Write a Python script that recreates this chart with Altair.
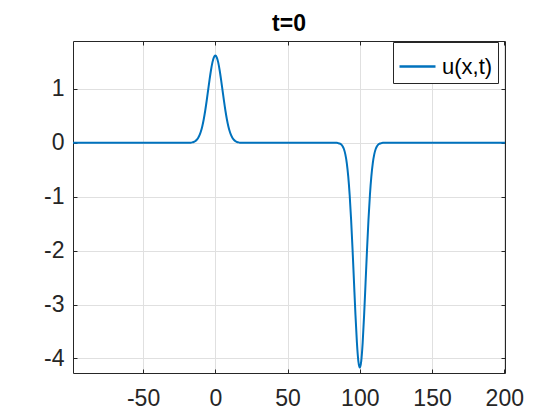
import altair as alt
import pandas as pd

# Curve samples (x, u(x,t) at t=0)
xs = [-98.5, -60, -30, -20, -18, -17, -16, -15, -14, -13, -12, -11, -10, -9, -8, -7, -6, -5, -4, -3, -2, -1,
      0, 1, 2, 3, 4, 5, 6, 7, 8, 9, 10, 11, 12, 13, 14, 15, 16, 17, 18, 20, 40, 70, 84,
      85, 86, 87, 88, 89, 90, 91, 92, 93, 94, 95, 96, 97, 98, 99, 100,
      101, 102, 103, 104, 105, 106, 107, 108, 109, 110, 111, 112, 113, 114, 115, 116, 130, 170, 200.5]
us = [0, 0, 0, 0, 0.002, 0.004, 0.009, 0.016, 0.030, 0.052, 0.086, 0.137, 0.211, 0.310, 0.439, 0.596, 0.777,
      0.973, 1.169, 1.348, 1.493, 1.587,
      1.620, 1.587, 1.493, 1.348, 1.169, 0.973, 0.777, 0.596, 0.439, 0.310, 0.211, 0.137, 0.086, 0.052, 0.030,
      0.016, 0.009, 0.004, 0.002, 0, 0, 0, 0,
      -0.005, -0.012, -0.027, -0.058, -0.114, -0.213, -0.375, -0.623, -0.972, -1.430, -1.983, -2.592, -3.191,
      -3.703, -4.048, -4.170,
      -4.048, -3.703, -3.191, -2.592, -1.983, -1.430, -0.972, -0.623, -0.375, -0.213, -0.114, -0.058, -0.027,
      -0.012, -0.005, 0, 0, 0, 0]
series_name = "u(x,t)"
x_ticks = [-50, 0, 50, 100, 150, 200]
y_ticks = [-4, -3, -2, -1, 0, 1]
x_domain = [-98.5, 200.5]
y_domain = [-4.27, 1.89]

df = pd.DataFrame({"x": xs, "u": us, "s": [series_name] * len(xs)})

FONT = "Liberation Sans"
AX = "#262626"
GRID = "#e0e0e0"
HYPHEN = "replace(datum.label, '\u2212', '-')"

xscale = alt.Scale(domain=x_domain, nice=False, zero=False)
yscale = alt.Scale(domain=y_domain, nice=False, zero=False)


def tick_axis(orient, values):
    # inward ticks: axis moved 4px inside, ticks reach the frame
    return alt.Axis(orient=orient, values=values, grid=False, domain=False, labels=False,
                    ticks=True, tickSize=4, offset=-4, tickColor=AX, tickWidth=1, title=None)


def frame_axis(orient, values):
    return alt.Axis(orient=orient, values=values, grid=False, domain=True, domainColor=AX,
                    domainWidth=1, labels=False, ticks=False, title=None)


main = alt.Chart(df).mark_line(strokeWidth=2, interpolate="monotone").encode(
    x=alt.X("x:Q", scale=xscale, axis=alt.Axis(
        orient="bottom", values=x_ticks, grid=True, gridColor=GRID, domain=False,
        ticks=True, tickSize=4, offset=-4, tickColor=AX, labelFontSize=23, labelFont=FONT,
        labelColor=AX, labelBaseline="alphabetic", labelPadding=32, labelFlush=False,
        labelOverlap=False, labelBound=False, labelExpr=HYPHEN, title=None)),
    y=alt.Y("u:Q", scale=yscale, axis=alt.Axis(
        orient="left", values=y_ticks, grid=True, gridColor=GRID, domain=False,
        ticks=True, tickSize=4, offset=-4, tickColor=AX, labelFontSize=23, labelFont=FONT,
        labelColor=AX, labelPadding=9, labelOverlap=False, labelFlush=False, labelBound=False,
        labelExpr=HYPHEN, title=None)),
    color=alt.Color("s:N", scale=alt.Scale(range=["#0072BD"]), legend=alt.Legend(
        orient="none", legendX=320, legendY=1, title=None, symbolType="stroke",
        symbolSize=1296, symbolStrokeWidth=2.5, labelFontSize=22, labelFont=FONT,
        labelColor="black", strokeColor=AX, fillColor="white", padding=5, labelOffset=5,
        cornerRadius=0)),
)

ticks_tr = alt.Chart(df).mark_line(opacity=0).encode(
    x=alt.X("x:Q", scale=xscale, axis=tick_axis("top", x_ticks)),
    y=alt.Y("u:Q", scale=yscale, axis=tick_axis("right", y_ticks)),
)

frame_bl = alt.Chart(df).mark_line(opacity=0).encode(
    x=alt.X("x:Q", scale=xscale, axis=frame_axis("bottom", x_ticks)),
    y=alt.Y("u:Q", scale=yscale, axis=frame_axis("left", y_ticks)),
)

frame_tr = alt.Chart(df).mark_line(opacity=0).encode(
    x=alt.X("x:Q", scale=xscale, axis=frame_axis("top", x_ticks)),
    y=alt.Y("u:Q", scale=yscale, axis=frame_axis("right", y_ticks)),
)

chart = alt.layer(main, ticks_tr, frame_bl, frame_tr).resolve_axis(
    x="independent", y="independent"
).properties(
    width=432, height=332,
    title=alt.Title("t=0", fontSize=23, fontWeight="bold", font=FONT, color="black",
                    anchor="middle", offset=5),
    autosize=alt.AutoSizeParams(type="none"),
    padding={"left": 65, "top": 33, "right": 40, "bottom": 45},
).configure(background="white").configure_view(stroke="transparent", strokeWidth=0)

chart.save("out.html", embed_options={"renderer": "svg", "actions": False})
